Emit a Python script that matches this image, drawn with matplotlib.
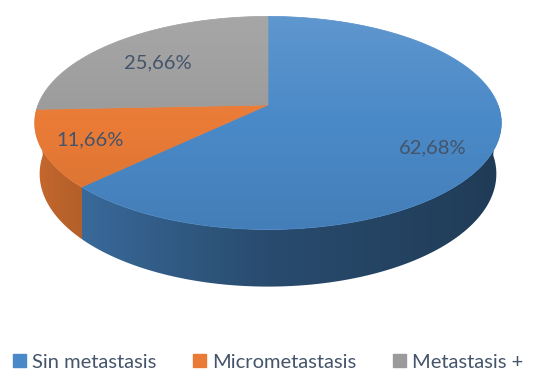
import numpy as np
import matplotlib.pyplot as plt
from matplotlib.patches import Polygon, Patch
from matplotlib.colors import to_rgb

labels = ["Sin metastasis", "Micrometastasis", "Metastasis +"]
values = [62.68, 11.66, 25.66]
value_text = ["62,68%", "11,66%", "25,66%"]
colors = ["#4a89c8", "#e97b36", "#9b9b9b"]

plt.rcParams['font.family'] = ['Lato', 'DejaVu Sans']
text_color = "#44546a"

# simple perspective camera looking down on a flat cylinder
sin_e = 0.45
cos_e = np.sqrt(1 - sin_e ** 2)
dist = 5.3
height = 0.25
cx, cy, scale = 268, 105, 230


def project(theta, y=0.0, r=1.0):
    theta = np.asarray(theta, dtype=float)
    X = r * np.cos(theta)
    Z = r * np.sin(theta)
    depth = dist - y * sin_e + Z * cos_e
    sx = X * dist / depth
    sy = (y * cos_e + Z * sin_e) * dist / depth
    return cx + sx * scale, cy - sy * scale


def side_shade(theta):
    # light from the left, the wall gets darker to the right
    return np.interp(np.cos(theta), [-1, 0, 1], [0.86, 0.55, 0.42])


fig = plt.figure(figsize=(5.36, 3.74), dpi=100)
ax = fig.add_axes([0, 0, 1, 1])
ax.set_xlim(0, 536)
ax.set_ylim(374, 0)
ax.axis('off')

fracs = np.array(values) / sum(values)
cum = np.concatenate([[0], np.cumsum(fracs)])
starts = np.deg2rad(90 - 360 * cum[:-1])
ends = np.deg2rad(90 - 360 * cum[1:])

# front wall, one shape, coloured column by column
front = np.linspace(np.pi, 2 * np.pi, 600)
tx, ty = project(front)
bx, by = project(front[::-1], -height)
wall = Polygon(np.column_stack([np.r_[tx, bx], np.r_[ty, by]]), closed=True,
               facecolor='none', edgecolor='none')
ax.add_patch(wall)
xs = np.linspace(tx.min(), tx.max(), 1200)
th = np.interp(xs, tx, front)
pos = np.mod(np.pi / 2 - th, 2 * np.pi) / (2 * np.pi)
idx = np.clip(np.searchsorted(cum, pos, side='right') - 1, 0, len(values) - 1)
base = np.array([to_rgb(c) for c in colors])[idx]
row = np.clip(base * side_shade(th)[:, None], 0, 1)
im = ax.imshow(row[None, :, :], extent=[xs.min(), xs.max(), by.max() + 1, ty.min() - 1],
               aspect='auto', interpolation='nearest', zorder=1)
im.set_clip_path(wall)

# top faces
for i in range(len(values)):
    t = np.linspace(starts[i], ends[i], 300)
    sx, sy = project(t)
    px, py = project(0.0, r=0.0)
    pts = np.column_stack([np.r_[px, sx], np.r_[py, sy]])
    ax.add_patch(Polygon(pts, closed=True, facecolor=colors[i], edgecolor=colors[i],
                         linewidth=0.5, zorder=2))

# soft gradient on the top face
tt = np.linspace(0, 2 * np.pi, 400)
ex, ey = project(tt)
outline = Polygon(np.column_stack([ex, ey]), closed=True, facecolor='none', edgecolor='none')
ax.add_patch(outline)
g = np.linspace(0, 1, 200)[:, None]
grad = np.zeros((200, 1, 4))
grad[..., :3] = np.where(g < 0.5, 1.0, 0.0)[..., None]
grad[..., 3] = np.where(g < 0.5, 0.12 * (1 - 2 * g), 0.08 * (2 * g - 1))
im = ax.imshow(grad, extent=[ex.min(), ex.max(), ey.max(), ey.min()], aspect='auto', zorder=3)
im.set_clip_path(outline)

# value labels
label_r = [0.74, 0.8, 0.72]
label_dy = [12, 0, 5]
for i in range(len(values)):
    mid = (starts[i] + ends[i]) / 2
    lx, ly = project(mid, r=label_r[i])
    ax.text(lx, ly + label_dy[i], value_text[i], ha='center', va='center', fontsize=14.5,
            color=text_color, zorder=5)

handles = [Patch(facecolor=c, edgecolor=c) for c in colors]
fig.legend(handles, labels, loc='center', bbox_to_anchor=(0.5, 12 / 374), ncol=3,
           frameon=False, fontsize=14.5, handlelength=0.65, handleheight=0.65,
           handletextpad=0.3, columnspacing=1.8, labelcolor=text_color,
           borderaxespad=0, borderpad=0)

fig.savefig("out.png", dpi=100)
